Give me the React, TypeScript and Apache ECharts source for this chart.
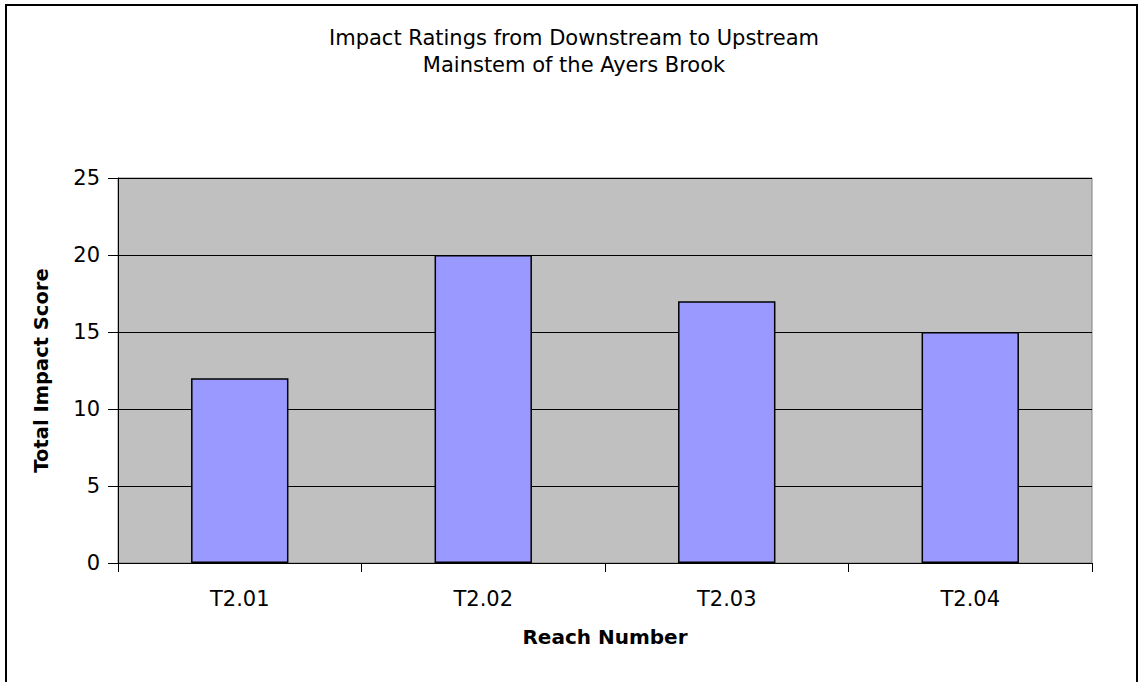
import React, { useEffect, useRef } from "react";
import * as echarts from "echarts";

const categories = ["T2.01", "T2.02", "T2.03", "T2.04"];
const scores = [12, 20, 17, 15];
const titleLines = ["Impact Ratings from Downstream to Upstream", "Mainstem of the Ayers Brook"];
const yAxisName = "Total Impact Score";
const xAxisName = "Reach Number";

const FONT = "'DejaVu Sans', Arial, sans-serif";

export default function App() {
  const ref = useRef<HTMLDivElement>(null);
  useEffect(() => {
    document.body.style.margin = "0";
    const chart = echarts.init(ref.current!, null, { renderer: "svg" });
    chart.setOption({
      animation: false,
      backgroundColor: "#ffffff",
      textStyle: { fontFamily: FONT },
      title: {
        text: titleLines.join("\n"),
        left: 574,
        top: 24,
        padding: 0,
        textAlign: "center",
        textStyle: { fontSize: 21, fontWeight: "normal", color: "#000", lineHeight: 27, fontFamily: FONT },
      },
      graphic: [
        {
          type: "rect",
          shape: { x: 6, y: 5, width: 1131, height: 690 },
          style: { fill: "none", stroke: "#000", lineWidth: 2 },
          z: 100,
        },
      ],
      grid: {
        left: 118,
        top: 178,
        right: 47,
        bottom: 119,
        show: true,
        backgroundColor: "#C0C0C0",
        borderColor: "#808080",
        borderWidth: 1,
      },
      xAxis: {
        type: "category",
        data: categories,
        name: xAxisName,
        nameLocation: "middle",
        nameGap: 64,
        nameTextStyle: { fontSize: 20, fontWeight: "bold", color: "#000", fontFamily: FONT },
        axisLine: { lineStyle: { color: "#000", width: 1 } },
        axisTick: { show: true, length: 9, lineStyle: { color: "#000" } },
        axisLabel: { fontSize: 21, color: "#000", margin: 25, fontFamily: FONT },
      },
      yAxis: {
        type: "value",
        min: 0,
        max: 25,
        interval: 5,
        name: yAxisName,
        nameLocation: "middle",
        nameGap: 67,
        nameTextStyle: { fontSize: 19.5, fontWeight: "bold", color: "#000", fontFamily: FONT },
        axisLine: { show: true, lineStyle: { color: "#000", width: 1 } },
        axisTick: { show: true, length: 10, lineStyle: { color: "#000" } },
        axisLabel: { fontSize: 21, color: "#000", margin: 18, fontFamily: FONT },
        splitLine: { show: true, lineStyle: { color: "#000", width: 1 } },
      },
      series: [
        {
          type: "bar",
          data: scores,
          barCategoryGap: "60%",
          itemStyle: { color: "#9999FF", borderColor: "#000", borderWidth: 1.5 },
        },
      ],
    });
    return () => chart.dispose();
  }, []);
  return <div ref={ref} style={{ width: 1139, height: 682 }} />;
}
